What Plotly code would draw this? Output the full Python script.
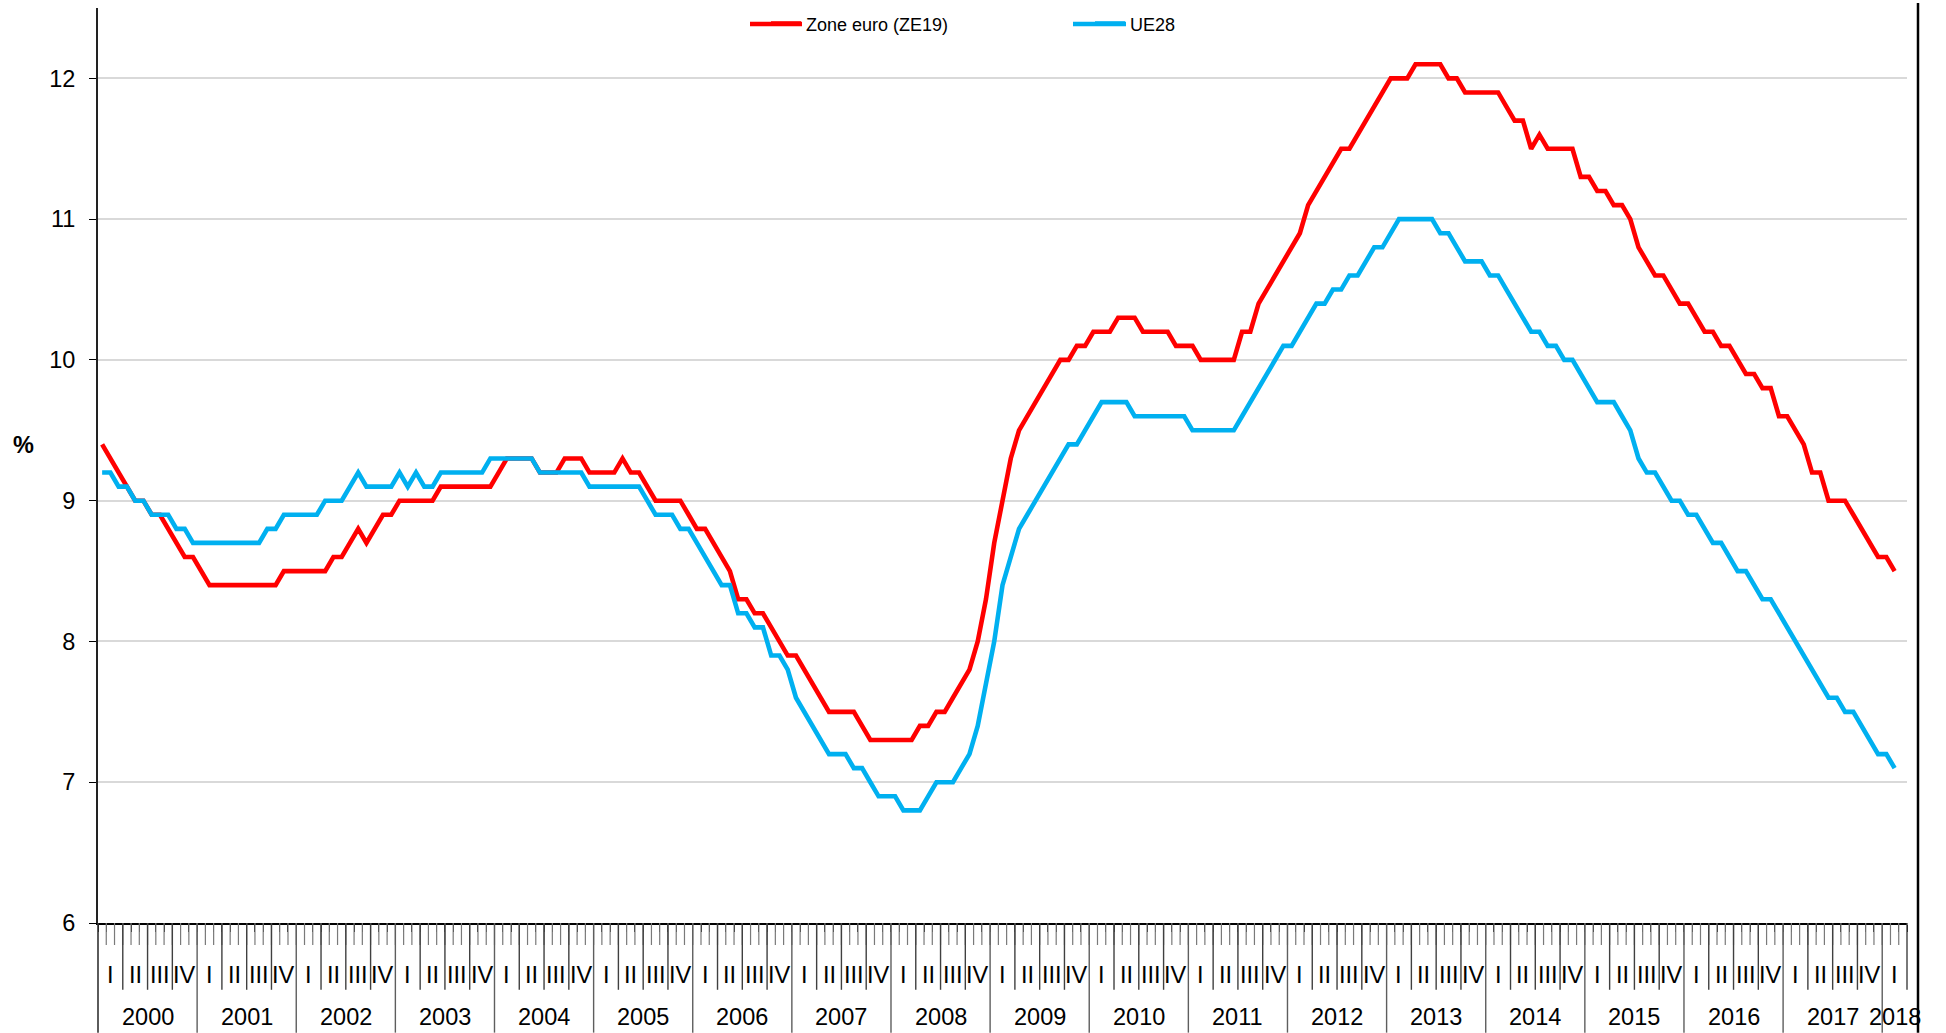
import plotly.graph_objects as go

# ---------------- data ----------------
years = [str(y) for y in range(2000, 2019)]
quarter_names = ["I", "II", "III", "IV"]
# monthly categories on the axis: Jan 2000 .. Mar 2018 (data up to Feb 2018)
months = [f"{y}-{m:02d}" for y in range(2000, 2019) for m in range(1, 13)][:219]

ze19 = [
    9.4, 9.3, 9.2, 9.1, 9.0, 9.0, 8.9, 8.9, 8.8, 8.7, 8.6, 8.6,          # 2000
    8.5, 8.4, 8.4, 8.4, 8.4, 8.4, 8.4, 8.4, 8.4, 8.4, 8.5, 8.5,          # 2001
    8.5, 8.5, 8.5, 8.5, 8.6, 8.6, 8.7, 8.8, 8.7, 8.8, 8.9, 8.9,          # 2002
    9.0, 9.0, 9.0, 9.0, 9.0, 9.1, 9.1, 9.1, 9.1, 9.1, 9.1, 9.1,          # 2003
    9.2, 9.3, 9.3, 9.3, 9.3, 9.2, 9.2, 9.2, 9.3, 9.3, 9.3, 9.2,          # 2004
    9.2, 9.2, 9.2, 9.3, 9.2, 9.2, 9.1, 9.0, 9.0, 9.0, 9.0, 8.9,          # 2005
    8.8, 8.8, 8.7, 8.6, 8.5, 8.3, 8.3, 8.2, 8.2, 8.1, 8.0, 7.9,          # 2006
    7.9, 7.8, 7.7, 7.6, 7.5, 7.5, 7.5, 7.5, 7.4, 7.3, 7.3, 7.3,          # 2007
    7.3, 7.3, 7.3, 7.4, 7.4, 7.5, 7.5, 7.6, 7.7, 7.8, 8.0, 8.3,          # 2008
    8.7, 9.0, 9.3, 9.5, 9.6, 9.7, 9.8, 9.9, 10.0, 10.0, 10.1, 10.1,      # 2009
    10.2, 10.2, 10.2, 10.3, 10.3, 10.3, 10.2, 10.2, 10.2, 10.2, 10.1, 10.1,  # 2010
    10.1, 10.0, 10.0, 10.0, 10.0, 10.0, 10.2, 10.2, 10.4, 10.5, 10.6, 10.7,  # 2011
    10.8, 10.9, 11.1, 11.2, 11.3, 11.4, 11.5, 11.5, 11.6, 11.7, 11.8, 11.9,  # 2012
    12.0, 12.0, 12.0, 12.1, 12.1, 12.1, 12.1, 12.0, 12.0, 11.9, 11.9, 11.9,  # 2013
    11.9, 11.9, 11.8, 11.7, 11.7, 11.5, 11.6, 11.5, 11.5, 11.5, 11.5, 11.3,  # 2014
    11.3, 11.2, 11.2, 11.1, 11.1, 11.0, 10.8, 10.7, 10.6, 10.6, 10.5, 10.4,  # 2015
    10.4, 10.3, 10.2, 10.2, 10.1, 10.1, 10.0, 9.9, 9.9, 9.8, 9.8, 9.6,       # 2016
    9.6, 9.5, 9.4, 9.2, 9.2, 9.0, 9.0, 9.0, 8.9, 8.8, 8.7, 8.6,              # 2017
    8.6, 8.5,                                                                # 2018
]

ue28 = [
    9.2, 9.2, 9.1, 9.1, 9.0, 9.0, 8.9, 8.9, 8.9, 8.8, 8.8, 8.7,          # 2000
    8.7, 8.7, 8.7, 8.7, 8.7, 8.7, 8.7, 8.7, 8.8, 8.8, 8.9, 8.9,          # 2001
    8.9, 8.9, 8.9, 9.0, 9.0, 9.0, 9.1, 9.2, 9.1, 9.1, 9.1, 9.1,          # 2002
    9.2, 9.1, 9.2, 9.1, 9.1, 9.2, 9.2, 9.2, 9.2, 9.2, 9.2, 9.3,          # 2003
    9.3, 9.3, 9.3, 9.3, 9.3, 9.2, 9.2, 9.2, 9.2, 9.2, 9.2, 9.1,          # 2004
    9.1, 9.1, 9.1, 9.1, 9.1, 9.1, 9.0, 8.9, 8.9, 8.9, 8.8, 8.8,          # 2005
    8.7, 8.6, 8.5, 8.4, 8.4, 8.2, 8.2, 8.1, 8.1, 7.9, 7.9, 7.8,          # 2006
    7.6, 7.5, 7.4, 7.3, 7.2, 7.2, 7.2, 7.1, 7.1, 7.0, 6.9, 6.9,          # 2007
    6.9, 6.8, 6.8, 6.8, 6.9, 7.0, 7.0, 7.0, 7.1, 7.2, 7.4, 7.7,          # 2008
    8.0, 8.4, 8.6, 8.8, 8.9, 9.0, 9.1, 9.2, 9.3, 9.4, 9.4, 9.5,          # 2009
    9.6, 9.7, 9.7, 9.7, 9.7, 9.6, 9.6, 9.6, 9.6, 9.6, 9.6, 9.6,          # 2010
    9.5, 9.5, 9.5, 9.5, 9.5, 9.5, 9.6, 9.7, 9.8, 9.9, 10.0, 10.1,        # 2011
    10.1, 10.2, 10.3, 10.4, 10.4, 10.5, 10.5, 10.6, 10.6, 10.7, 10.8, 10.8,  # 2012
    10.9, 11.0, 11.0, 11.0, 11.0, 11.0, 10.9, 10.9, 10.8, 10.7, 10.7, 10.7,  # 2013
    10.6, 10.6, 10.5, 10.4, 10.3, 10.2, 10.2, 10.1, 10.1, 10.0, 10.0, 9.9,   # 2014
    9.8, 9.7, 9.7, 9.7, 9.6, 9.5, 9.3, 9.2, 9.2, 9.1, 9.0, 9.0,              # 2015
    8.9, 8.9, 8.8, 8.7, 8.7, 8.6, 8.5, 8.5, 8.4, 8.3, 8.3, 8.2,              # 2016
    8.1, 8.0, 7.9, 7.8, 7.7, 7.6, 7.6, 7.5, 7.5, 7.4, 7.3, 7.2,              # 2017
    7.2, 7.1,                                                                # 2018
]

y_ticks = [6, 7, 8, 9, 10, 11, 12]

# ---------------- figure ----------------
n_slots = len(months)            # 219 monthly slots on the axis
x_idx = list(range(len(ze19)))   # 218 observations

FONT = "Liberation Sans, Arial, Helvetica, sans-serif"
RED = "#FF0000"
CYAN = "#00B0F0"
LBL = 23.5

fig = go.Figure()
fig.add_trace(go.Scatter(
    x=x_idx, y=ze19, name="Zone euro (ZE19)", mode="lines",
    line=dict(color=RED, width=4.6), customdata=months[:len(ze19)],
    hovertemplate="%{customdata}: %{y}%<extra>Zone euro (ZE19)</extra>",
))
fig.add_trace(go.Scatter(
    x=x_idx, y=ue28, name="UE28", mode="lines",
    line=dict(color=CYAN, width=4.6), customdata=months[:len(ue28)],
    hovertemplate="%{customdata}: %{y}%<extra>UE28</extra>",
))

# plot geometry (px) used to convert pixel lengths below the axis to paper units
H_PLOT = 1033 - 5 - 110
W_PLOT = 1946 - 98 - 39

boundaries = [b - 0.5 for b in range(n_slots + 1)]

shapes = []
# grey month separators below the axis
path = " ".join(f"M {b},0 L {b},{-22 / H_PLOT}" for b in boundaries[1:-1])
shapes.append(dict(type="path", xref="x", yref="paper", path=path,
                   line=dict(color="#7a7a7a", width=1.2)))
# quarter and year separators
for k in range(1, n_slots):
    b = k - 0.5
    if k % 12 == 0:
        shapes.append(dict(type="line", xref="x", yref="paper", x0=b, x1=b,
                           y0=0, y1=-110 / H_PLOT, line=dict(color="#5e5e5e", width=1.4)))
    elif k % 3 == 0:
        shapes.append(dict(type="line", xref="x", yref="paper", x0=b, x1=b,
                           y0=0, y1=-67 / H_PLOT, line=dict(color="#404040", width=1.4)))
# axis ends
shapes.append(dict(type="line", xref="x domain", yref="paper", x0=0, x1=0,
                   y0=0, y1=-110 / H_PLOT, line=dict(color="#333333", width=1.6)))
shapes.append(dict(type="line", xref="x domain", yref="paper", x0=1, x1=1,
                   y0=0, y1=-67 / H_PLOT, line=dict(color="#404040", width=1.4)))
# outer right border of the chart area
shapes.append(dict(type="line", xref="paper", yref="paper",
                   x0=1 + 11 / W_PLOT, x1=1 + 11 / W_PLOT,
                   y0=-110 / H_PLOT, y1=1 + 5 / H_PLOT,
                   line=dict(color="black", width=2.5)))
# longer legend line samples (as in the original legend)
LEG_Y = (923 - 21) / H_PLOT
for color, x_start, x_end in [(RED, 750, 802), (CYAN, 1073, 1126)]:
    shapes.append(dict(type="line", xref="paper", yref="paper",
                       x0=(x_start - 98) / W_PLOT, x1=(x_end - 98) / W_PLOT,
                       y0=LEG_Y, y1=LEG_Y, layer="above",
                       line=dict(color=color, width=4.6)))

annotations = []
# quarter labels
for q in range((n_slots + 2) // 3):
    annotations.append(dict(x=3 * q + 1, y=-52 / H_PLOT, xref="x", yref="paper",
                            text=quarter_names[q % 4], showarrow=False,
                            xanchor="center", yanchor="middle",
                            font=dict(family=FONT, size=LBL, color="black")))
# year labels
for k, yr in enumerate(years):
    start = 12 * k
    end = min(12 * k + 11, n_slots - 1)
    annotations.append(dict(x=(start + end) / 2, y=-94 / H_PLOT, xref="x", yref="paper",
                            text=yr, showarrow=False, xanchor="center", yanchor="middle",
                            font=dict(family=FONT, size=LBL, color="black")))
# unit label
annotations.append(dict(x=(23 - 98) / W_PLOT, y=(923 - 443) / H_PLOT,
                        xref="paper", yref="paper", text="<b>%</b>",
                        showarrow=False, xanchor="center", yanchor="middle",
                        font=dict(family=FONT, size=LBL, color="black")))

fig.update_layout(
    width=1946, height=1033,
    margin=dict(l=98, r=39, t=5, b=110),
    paper_bgcolor="white", plot_bgcolor="white",
    font=dict(family=FONT, size=LBL, color="black"),
    showlegend=True,
    legend=dict(orientation="h", x=(766 - 98) / W_PLOT, y=LEG_Y,
                xanchor="left", yanchor="middle",
                font=dict(family=FONT, size=18, color="black"),
                entrywidth=279, entrywidthmode="pixels",
                bgcolor="rgba(0,0,0,0)", borderwidth=0),
    xaxis=dict(range=[-0.5, n_slots - 0.5], showgrid=False, zeroline=False,
               showline=True, linecolor="black", linewidth=1.6,
               tickmode="array", tickvals=boundaries, ticktext=[""] * len(boundaries),
               ticks="outside", ticklen=7, tickwidth=1.3, tickcolor="black",
               showticklabels=False, fixedrange=True),
    yaxis=dict(range=[6, 12.5], tickmode="array", tickvals=y_ticks,
               ticktext=[str(v) for v in y_ticks],
               showgrid=True, gridcolor="#d9d9d9", gridwidth=1.5, zeroline=False,
               showline=True, linecolor="#222222", linewidth=1.8,
               ticks="outside", ticklen=7, tickwidth=1.3, tickcolor="black",
               ticklabelstandoff=9, tickfont=dict(family=FONT, size=LBL, color="black"),
               fixedrange=True),
    shapes=shapes,
    annotations=annotations,
)

fig.write_html("out.html", config={"displayModeBar": False},
               post_script="document.body.style.margin='0';")
